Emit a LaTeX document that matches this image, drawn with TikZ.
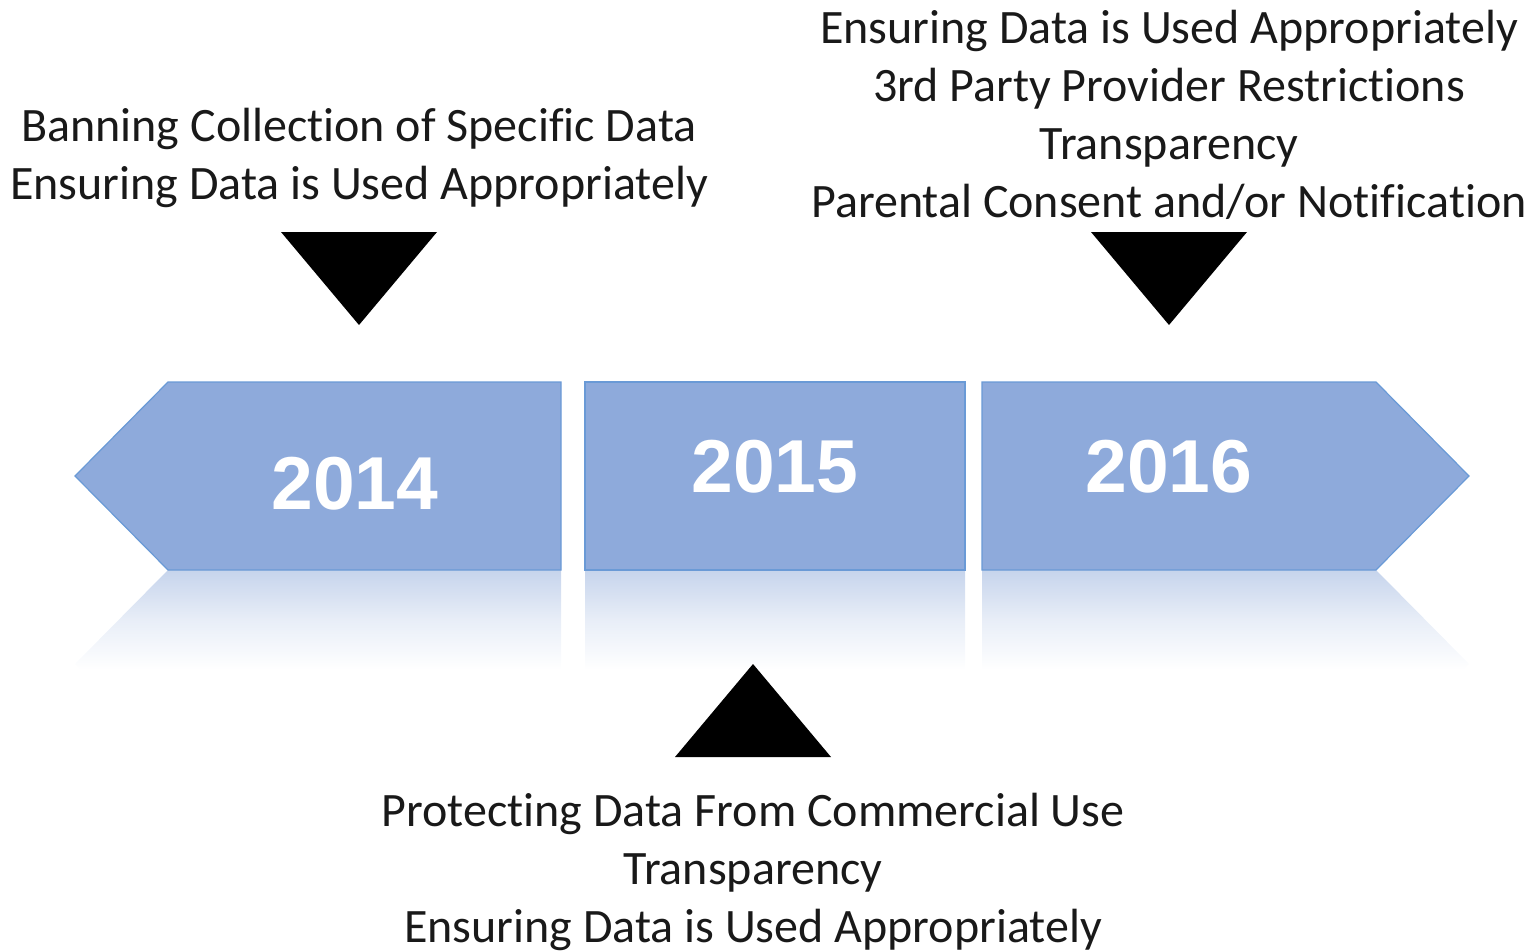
\documentclass[tikz,border=0pt]{standalone}
\usepackage{fontspec}
\setmainfont{Carlito}[Ligatures=NoCommon]
\newfontfamily\yearfont{Liberation Sans}
\definecolor{stepfill}{HTML}{8EAADB}
\definecolor{stepedge}{HTML}{6A9AD6}
\definecolor{reflect}{HTML}{C6D4EC}
\tikzset{
  x=1pt, y=-1pt,
  stepshape/.style={fill=stepfill, draw=stepedge, line width=1.2pt, line join=miter},
  reflshape/.style={top color=reflect, bottom color=white, middle color=reflect!40!white, draw=none},
  yearlabel/.style={text=white, font=\yearfont\bfseries\fontsize{75}{80}\selectfont, inner sep=0pt},
  notelabel/.style={text=black!90, font=\fontsize{48}{58}\selectfont, align=center, inner sep=0pt},
  pointer/.style={fill=black, draw=none}
}
\begin{document}
\begin{tikzpicture}
\useasboundingbox (0,0) rectangle (1533,950);

% fading reflections beneath the timeline
\shade[reflshape] (168,570) -- (75,664) -- (81,670) -- (561,670) -- (561,570) -- cycle;
\shade[reflshape] (585,570) rectangle (965,670);
\shade[reflshape] (982,570) -- (982,670) -- (1463,670) -- (1469,664) -- (1376,570) -- cycle;

% timeline segments
\draw[stepshape] (75,476) -- (168,382) -- (561,382) -- (561,570) -- (168,570) -- cycle;
\draw[stepshape] (585,382) rectangle (965,570);
\draw[stepshape] (982,382) -- (1376,382) -- (1469,476) -- (1376,570) -- (982,570) -- cycle;

\node[yearlabel] (y14) at (355,484) {2014};
\node[yearlabel] (y15) at (775,467) {2015};
\node[yearlabel] (y16) at (1169,467) {2016};

% pointers
\fill[pointer] (281,232) -- (437,232) -- (359,325) -- cycle;
\fill[pointer] (1091,232) -- (1247,232) -- (1169,325) -- cycle;
\fill[pointer] (675,757) -- (831,757) -- (753,664) -- cycle;

% notes
\node[notelabel, anchor=base] (n14) at (359,199)
  {Banning Collection of Specific Data\\Ensuring Data is Used Appropriately};
\node[notelabel, anchor=base] (n16) at (1169,217)
  {Ensuring Data is Used Appropriately\\3rd Party Provider Restrictions\\Transparency\\Parental Consent and/or Notification};
\node[notelabel, anchor=base] (n15) at (753,942)
  {Protecting Data From Commercial Use\\Transparency\\Ensuring Data is Used Appropriately};
\end{tikzpicture}
\end{document}
